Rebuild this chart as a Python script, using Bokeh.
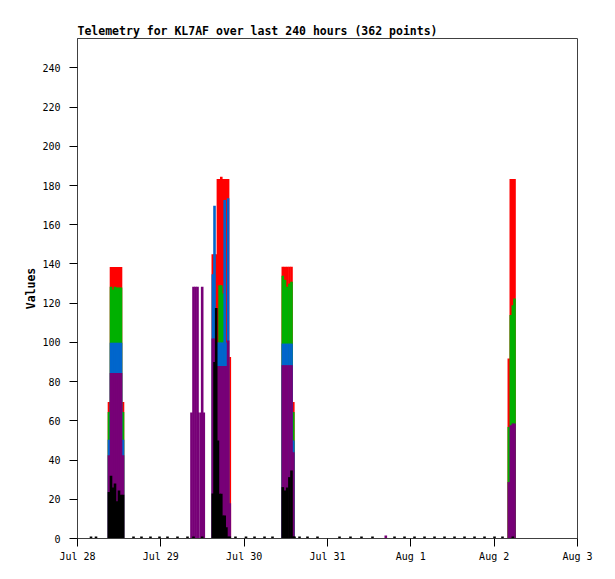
from bokeh.plotting import figure
from bokeh.models import ColumnDataSource, FixedTicker
from bokeh.embed import file_html
from bokeh.resources import INLINE

TITLE = "Telemetry for KL7AF over last 240 hours (362 points)"

# hours since Jul 28 00:00
day_ticks = [0, 24, 48, 72, 96, 120, 144]
day_labels = ["Jul 28", "Jul 29", "Jul 30", "Jul 31", "Aug 1", "Aug 2", "Aug 3"]
value_ticks = [0, 20, 40, 60, 80, 100, 120, 140, 160, 180, 200, 220, 240]

# telemetry bursts
burst_hours = [
    9.07, 9.65, 10.22, 10.80, 11.38, 11.95, 12.53, 13.10,
    32.83, 33.41, 33.98, 34.56, 34.85, 35.65, 35.91, 36.37,
    38.97, 39.46, 39.95, 40.44, 40.92, 41.41, 41.90, 42.39, 42.88, 43.37, 43.86,
    59.13, 59.76, 60.39, 61.03, 61.63, 62.15,
    124.22, 124.79, 125.37, 125.86,
]
red = [
    69.6, 138.5, 138.5, 138.5, 138.5, 138.5, 138.5, 69.6,
    0, 0, 0, 0, 0, 0, 0, 0,
    145.0, 145.0, 145.0, 183.4, 183.4, 184.5, 183.4, 183.4, 183.4, 183.4, 92.6,
    138.6, 138.6, 138.6, 138.6, 138.6, 69.6,
    91.8, 183.4, 183.4, 183.4,
]
green = [
    64.5, 128.4, 127.0, 128.4, 128.0, 128.0, 128.0, 64.5,
    0, 0, 0, 0, 0, 0, 0, 0,
    0, 0, 0, 0, 129.2, 129.2, 125.0, 125.0, 0, 0, 0,
    134.0, 132.0, 128.4, 130.0, 131.0, 64.5,
    56.9, 114.0, 119.0, 122.4,
]
blue = [
    50.4, 99.8, 99.8, 99.8, 99.8, 99.8, 99.8, 50.4,
    0, 0, 0, 0, 0, 0, 0, 0,
    134.8, 169.7, 100.0, 100.0, 100.0, 100.0, 100.0, 172.6, 100.0, 173.5, 0,
    99.4, 99.4, 99.4, 99.4, 99.4, 50.0,
    0, 0, 0, 0,
]
purple = [
    42.4, 84.4, 84.4, 84.4, 84.4, 84.4, 84.4, 42.4,
    64.2, 128.4, 128.4, 128.4, 64.2, 64.2, 128.4, 64.2,
    102.0, 102.0, 88.0, 88.0, 88.0, 88.0, 88.0, 88.0, 88.0, 101.0, 18.0,
    88.4, 88.4, 88.4, 88.4, 88.4, 44.0,
    28.8, 57.7, 58.6, 58.6,
]
black = [
    23.7, 32.0, 26.0, 28.0, 19.0, 24.5, 22.3, 22.3,
    0, 1, 0, 0, 0, 0, 1, 0,
    23.0, 90.0, 117.6, 50.0, 22.8, 22.8, 11.7, 11.7, 5.8, 1, 1,
    26.2, 24.5, 26.0, 31.3, 34.7, 1,
    0, 0, 1, 0,
]

# quiet periods: near-zero readings
idle_hours = [3.89, 5.33, 16.13, 18.43, 21.02, 23.62, 25.92, 28.80, 31.68,
              45.50, 48.53, 50.98, 53.86, 56.16, 62.50, 63.94, 66.24, 69.12,
              75.46, 78.62, 81.79, 84.96, 91.30, 94.18, 97.06, 99.94, 102.82,
              105.70, 108.58, 111.46, 114.34, 117.22, 120.10, 122.40]
idle_black = [1] * len(idle_hours)
idle_purple_hours = [88.79]
idle_purple = [1.5]

src = ColumnDataSource(dict(t=burst_hours, red=red, green=green, blue=blue,
                            purple=purple, black=black))
idle_src = ColumnDataSource(dict(t=idle_hours, v=idle_black))
idle_p_src = ColumnDataSource(dict(t=idle_purple_hours, v=idle_purple))

FONT = "DejaVu Sans Mono"
p = figure(width=610, height=573, x_range=(0, 144), y_range=(0, 255),
           output_backend="svg", toolbar_location=None, title=TITLE,
           min_border_left=77, min_border_right=33, min_border_top=38,
           min_border_bottom=35)
p.title.text_font = FONT
p.title.text_font_size = "11.5px"
p.title.text_font_style = "bold"
p.title.align = "left"
p.title.offset = 0
p.title.standoff = 2
p.title.text_color = "#000000"

W = 0.75
colors = [("red", "#ff0000"), ("green", "#00b000"), ("blue", "#0066cc"),
          ("purple", "#770077"), ("black", "#000000")]
for col, c in colors:
    p.vbar(x="t", top=col, bottom=0, width=W, source=src,
           fill_color=c, line_color=None)
p.vbar(x="t", top="v", bottom=0, width=W, source=idle_p_src,
       fill_color="#770077", line_color=None)
p.vbar(x="t", top="v", bottom=0, width=W, source=idle_src,
       fill_color="#000000", line_color=None)

p.xgrid.visible = False
p.ygrid.visible = False
p.outline_line_color = "#404040"
p.background_fill_color = "white"
p.border_fill_color = "white"

for ax in (p.xaxis[0], p.yaxis[0]):
    ax.major_tick_in = 0
    ax.major_tick_out = 8
    ax.minor_tick_in = 0
    ax.minor_tick_out = 0
    ax.axis_line_color = "#404040"
    ax.major_tick_line_color = "#000000"
    ax.major_label_text_font = FONT
    ax.major_label_text_font_size = "10px"
    ax.major_label_text_color = "#000000"

p.xaxis.ticker = FixedTicker(ticks=day_ticks, minor_ticks=[])
p.xaxis.major_label_overrides = {t: l for t, l in zip(day_ticks, day_labels)}
p.xaxis.major_label_standoff = 4
p.yaxis.ticker = FixedTicker(ticks=value_ticks, minor_ticks=[])
p.yaxis.major_label_standoff = 9
p.yaxis.axis_label = "Values"
p.yaxis.axis_label_text_font = FONT
p.yaxis.axis_label_text_font_size = "11.5px"
p.yaxis.axis_label_text_font_style = "bold"
p.yaxis.axis_label_text_color = "#000000"
p.yaxis.axis_label_standoff = 1

open("out.html", "w").write(file_html(p, INLINE))
